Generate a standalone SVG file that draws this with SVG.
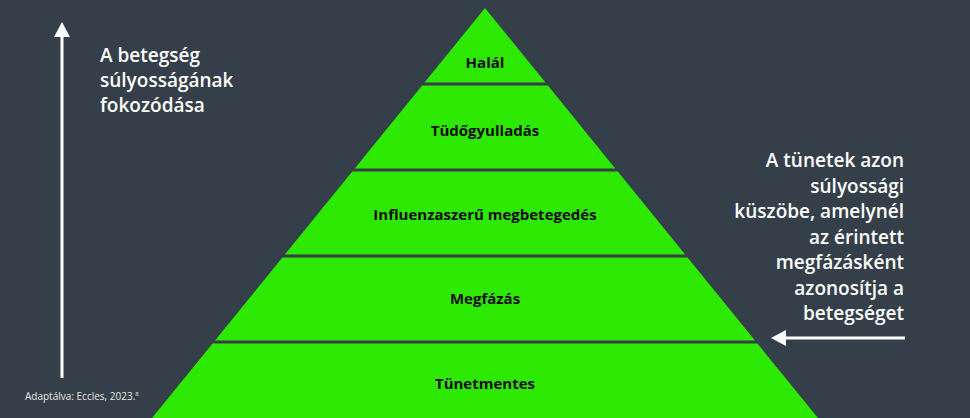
<svg xmlns="http://www.w3.org/2000/svg" width="970" height="418" viewBox="0 0 970 418">
<style>
.lvl{fill:#2de800}
.lbl{font-family:"Open Sans","Liberation Sans",sans-serif;font-weight:700;font-size:15px;fill:#0a0a0a;text-anchor:middle}
.side{font-family:"Open Sans","Liberation Sans",sans-serif;font-weight:600;font-size:19px;fill:#ffffff}
.conn{stroke:#ffffff;stroke-width:3;fill:none}
</style>
<rect width="970" height="418" fill="#353f49"/>
<g id="halal"><polygon class="lvl" points="485,8 545.5,82.5 424.5,82.5"/><text class="lbl" x="485" y="68">Halál</text></g>
<g id="tudogyulladas"><polygon class="lvl" points="422.1,85.5 547.9,85.5 615.3,168.5 354.7,168.5"/><text class="lbl" x="485" y="136">Tüdőgyulladás</text></g>
<g id="influenza"><polygon class="lvl" points="352.2,171.5 617.8,171.5 685.2,254.5 284.8,254.5"/><text class="lbl" x="485" y="220">Influenzaszerű megbetegedés</text></g>
<g id="megfazas"><polygon class="lvl" points="282.4,257.5 687.6,257.5 755,340.5 215,340.5"/><text class="lbl" x="485" y="304">Megfázás</text></g>
<g id="tunetmentes"><polygon class="lvl" points="212.6,343.5 757.4,343.5 818,418 152,418"/><text class="lbl" x="485" y="389">Tünetmentes</text></g>
<g id="left-label" class="side"><text x="100" y="62">A betegség</text><text x="100" y="87">súlyosságának</text><text x="100" y="112">fokozódása</text></g>
<g id="right-label" class="side" text-anchor="end"><text x="904" y="167">A tünetek azon</text><text x="904" y="192.5">súlyossági</text><text x="904" y="218">küszöbe, amelynél</text><text x="904" y="243.5">az érintett</text><text x="904" y="269">megfázásként</text><text x="904" y="294.5">azonosítja a</text><text x="904" y="320">betegséget</text></g>
<g id="connectors">
<line class="conn" x1="62" y1="378" x2="62" y2="34"/><polygon fill="#fff" points="62,22 70,37 54,37"/>
<line class="conn" x1="905" y1="338" x2="784" y2="338"/><polygon fill="#fff" points="771,338 786,330 786,346"/>
</g>
<text x="25" y="400" font-family="Open Sans, Liberation Sans, sans-serif" font-size="10" fill="#e6e6e6">Adaptálva: Eccles, 2023.<tspan font-size="6" dy="-4">8</tspan></text>
</svg>
